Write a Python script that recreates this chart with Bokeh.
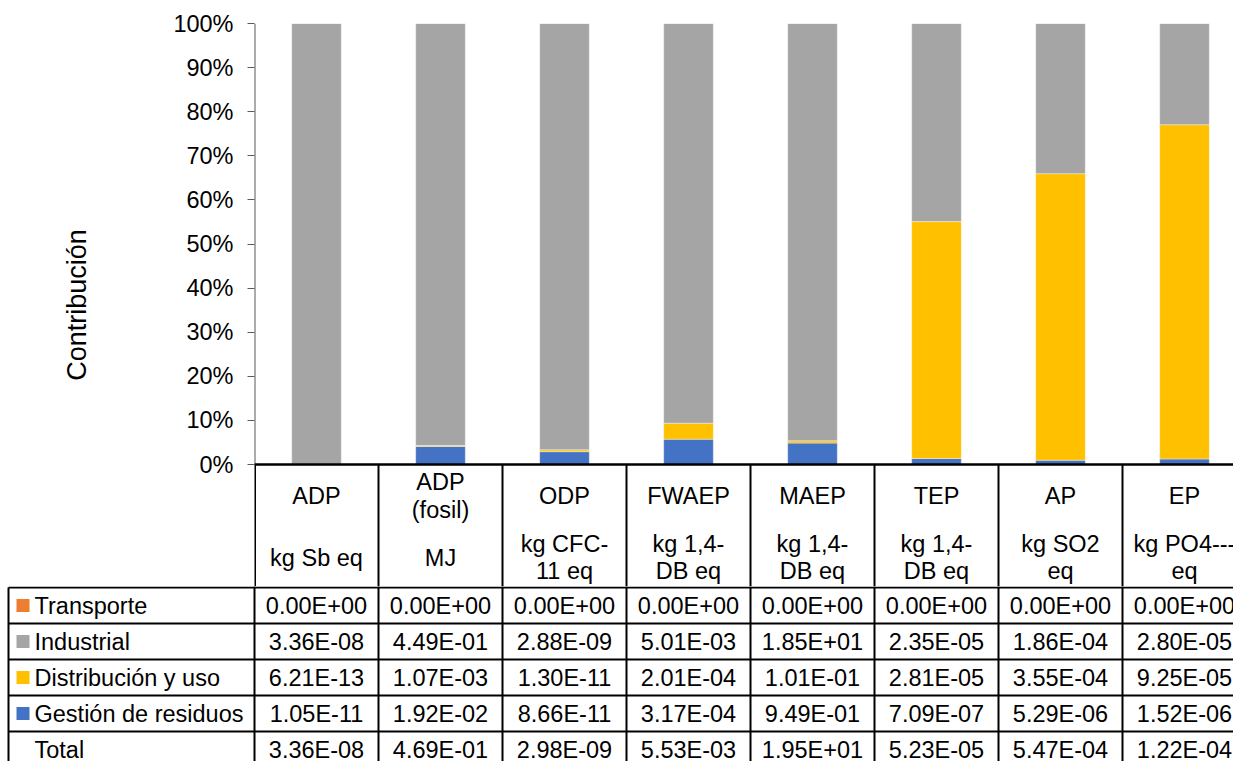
import numpy as np
from bokeh.plotting import figure
from bokeh.models import Range1d, FixedTicker, NumeralTickFormatter, ColumnDataSource
from bokeh.layouts import column
from bokeh.embed import file_html
from bokeh.resources import INLINE
from bokeh.core.properties import value

# ---- data -------------------------------------------------------------
categories = ["ADP", "ADP\n(fosil)", "ODP", "FWAEP", "MAEP", "TEP", "AP", "EP"]
units = ["kg Sb eq", "MJ", "kg CFC-\n11 eq", "kg 1,4-\nDB eq", "kg 1,4-\nDB eq",
         "kg 1,4-\nDB eq", "kg SO2\neq", "kg PO4---\neq"]

transporte = [0.00e+00, 0.00e+00, 0.00e+00, 0.00e+00, 0.00e+00, 0.00e+00, 0.00e+00, 0.00e+00]
industrial = [3.36e-08, 4.49e-01, 2.88e-09, 5.01e-03, 1.85e+01, 2.35e-05, 1.86e-04, 2.80e-05]
distribucion = [6.21e-13, 1.07e-03, 1.30e-11, 2.01e-04, 1.01e-01, 2.81e-05, 3.55e-04, 9.25e-05]
gestion = [1.05e-11, 1.92e-02, 8.66e-11, 3.17e-04, 9.49e-01, 7.09e-07, 5.29e-06, 1.52e-06]
total = [3.36e-08, 4.69e-01, 2.98e-09, 5.53e-03, 1.95e+01, 5.23e-05, 5.47e-04, 1.22e-04]

series_names = ["Transporte", "Industrial", "Distribución y uso", "Gestión de residuos"]
series_colors = ["#ED7D31", "#A5A5A5", "#FFC000", "#4472C4"]
y_ticks = [0.0, 0.1, 0.2, 0.3, 0.4, 0.5, 0.6, 0.7, 0.8, 0.9, 1.0]
y_title = "Contribución"

# ---- layout constants (pixels) ----------------------------------------
W, H = 1233, 761
AXIS_X = 254          # left edge of the plotting area
COL_W = 124           # width of one category column
PLOT_TOP = 23         # 100 % line
PLOT_BOTTOM = 464     # 0 % line / top of the data table
HEADER_SPLIT = 525
HEADER_BOTTOM = 587
TOP_H = 586           # chart + table header
TABLE_LEFT = 8
ROW_H = 36
FONT = "Liberation Sans"
FS = "23.5px"
LINE_H = 1.04

n = len(categories)
x_end = (W - AXIS_X) / COL_W
px_per_unit = PLOT_BOTTOM - PLOT_TOP


def y_of(py):
    """Page pixel row -> value on the percentage scale of the chart."""
    return (PLOT_BOTTOM - py) / px_per_unit


# ---- stacked 100 % columns ----------------------------------------------
comp = np.array([transporte, industrial, distribucion, gestion], dtype=float)
share = comp / comp.sum(axis=0)
src = ColumnDataSource(dict(
    x=[i + 0.5 for i in range(n)],
    gestion=share[3], distribucion=share[2], industrial=share[1], transporte=share[0],
))

p = figure(width=W, height=TOP_H, x_range=Range1d(0, x_end), y_range=Range1d(y_of(TOP_H), 1),
           output_backend="svg", toolbar_location=None, x_axis_type=None,
           min_border_left=AXIS_X, min_border_right=0, min_border_top=PLOT_TOP,
           min_border_bottom=0, frame_align=False)
p.outline_line_color = None
p.xgrid.visible = False
p.ygrid.visible = False

p.vbar_stack(["gestion", "distribucion", "industrial", "transporte"], x="x", width=0.4,
             color=[series_colors[3], series_colors[2], series_colors[1], series_colors[0]],
             line_color="white", line_alpha=0.5, line_width=0.75, source=src)

ya = p.yaxis[0]
ya.ticker = FixedTicker(ticks=y_ticks)
ya.formatter = NumeralTickFormatter(format="0%")
ya.major_label_text_font = FONT
ya.major_label_text_font_size = FS
ya.major_label_text_color = "black"
ya.major_tick_out = 7
ya.major_tick_in = 0
ya.minor_tick_out = 0
ya.minor_tick_in = 0
ya.major_label_standoff = 14
ya.axis_line_color = None
ya.major_tick_line_color = "#595959"
ya.axis_label = y_title
ya.axis_label_text_font = FONT
ya.axis_label_text_font_size = "27px"
ya.axis_label_text_font_style = "normal"
ya.axis_label_text_color = "black"
ya.axis_label_standoff = 78

# value axis line
p.segment(x0=[0], y0=[0], x1=[0], y1=[1], line_color="#595959", line_width=2)

# table header: top rule, column separators, names and units
p.segment(x0=[0], y0=[0], x1=[x_end], y1=[0], line_color="black", line_width=2.5)
p.segment(x0=list(range(n + 1)), y0=[y_of(TOP_H)] * (n + 1),
          x1=list(range(n + 1)), y1=[0] * (n + 1),
          line_color="black", line_width=[3] + [2] * n)
cx = [i + 0.5 for i in range(n)]
p.text(x=cx, y=[y_of((PLOT_BOTTOM + HEADER_SPLIT) / 2 + 1)] * n, text=categories,
       text_align="center", text_baseline="middle", text_font=value(FONT),
       text_font_size=FS, text_color="black", text_line_height=LINE_H)
p.text(x=cx, y=[y_of((HEADER_SPLIT + HEADER_BOTTOM) / 2 + 1)] * n, text=units,
       text_align="center", text_baseline="middle", text_font=value(FONT),
       text_font_size=FS, text_color="black", text_line_height=LINE_H)

# ---- data table rows ------------------------------------------------------
t = figure(width=W, height=H - TOP_H, x_range=Range1d(-AXIS_X / COL_W, x_end),
           y_range=Range1d(H, TOP_H), output_backend="svg", toolbar_location=None,
           min_border=0, x_axis_type=None, y_axis_type=None, frame_align=False)
t.outline_line_color = None
t.xgrid.visible = False
t.ygrid.visible = False

left_x = (TABLE_LEFT - AXIS_X) / COL_W
row_tops = [HEADER_BOTTOM + ROW_H * k for k in range(6)]

t.segment(x0=list(range(n + 1)), y0=[TOP_H] * (n + 1), x1=list(range(n + 1)), y1=[H] * (n + 1),
          line_color="black", line_width=2)
t.segment(x0=[left_x], y0=[HEADER_BOTTOM], x1=[left_x], y1=[H], line_color="black", line_width=2)
t.segment(x0=[left_x] * len(row_tops), y0=row_tops, x1=[x_end] * len(row_tops), y1=row_tops,
          line_color="black", line_width=2)

row_names = series_names + ["Total"]
row_values = [transporte, industrial, distribucion, gestion, total]
for r, (name, vals) in enumerate(zip(row_names, row_values)):
    yc = row_tops[r] + ROW_H / 2
    t.text(x=cx, y=[yc] * n, text=[f"{v:.2E}" for v in vals],
           text_align="center", text_baseline="middle", text_font=value(FONT),
           text_font_size=FS, text_color="black")
    t.text(x=[(34 - AXIS_X) / COL_W], y=[yc], text=[name],
           text_align="left", text_baseline="middle", text_font=value(FONT),
           text_font_size=FS, text_color="black")
    if r < len(series_colors):
        t.rect(x=[(22.5 - AXIS_X) / COL_W], y=[yc], width=13 / COL_W, height=13,
               color=series_colors[r], line_color=None)

layout = column(p, t, spacing=0)
open("out.html", "w").write(file_html(layout, INLINE))
